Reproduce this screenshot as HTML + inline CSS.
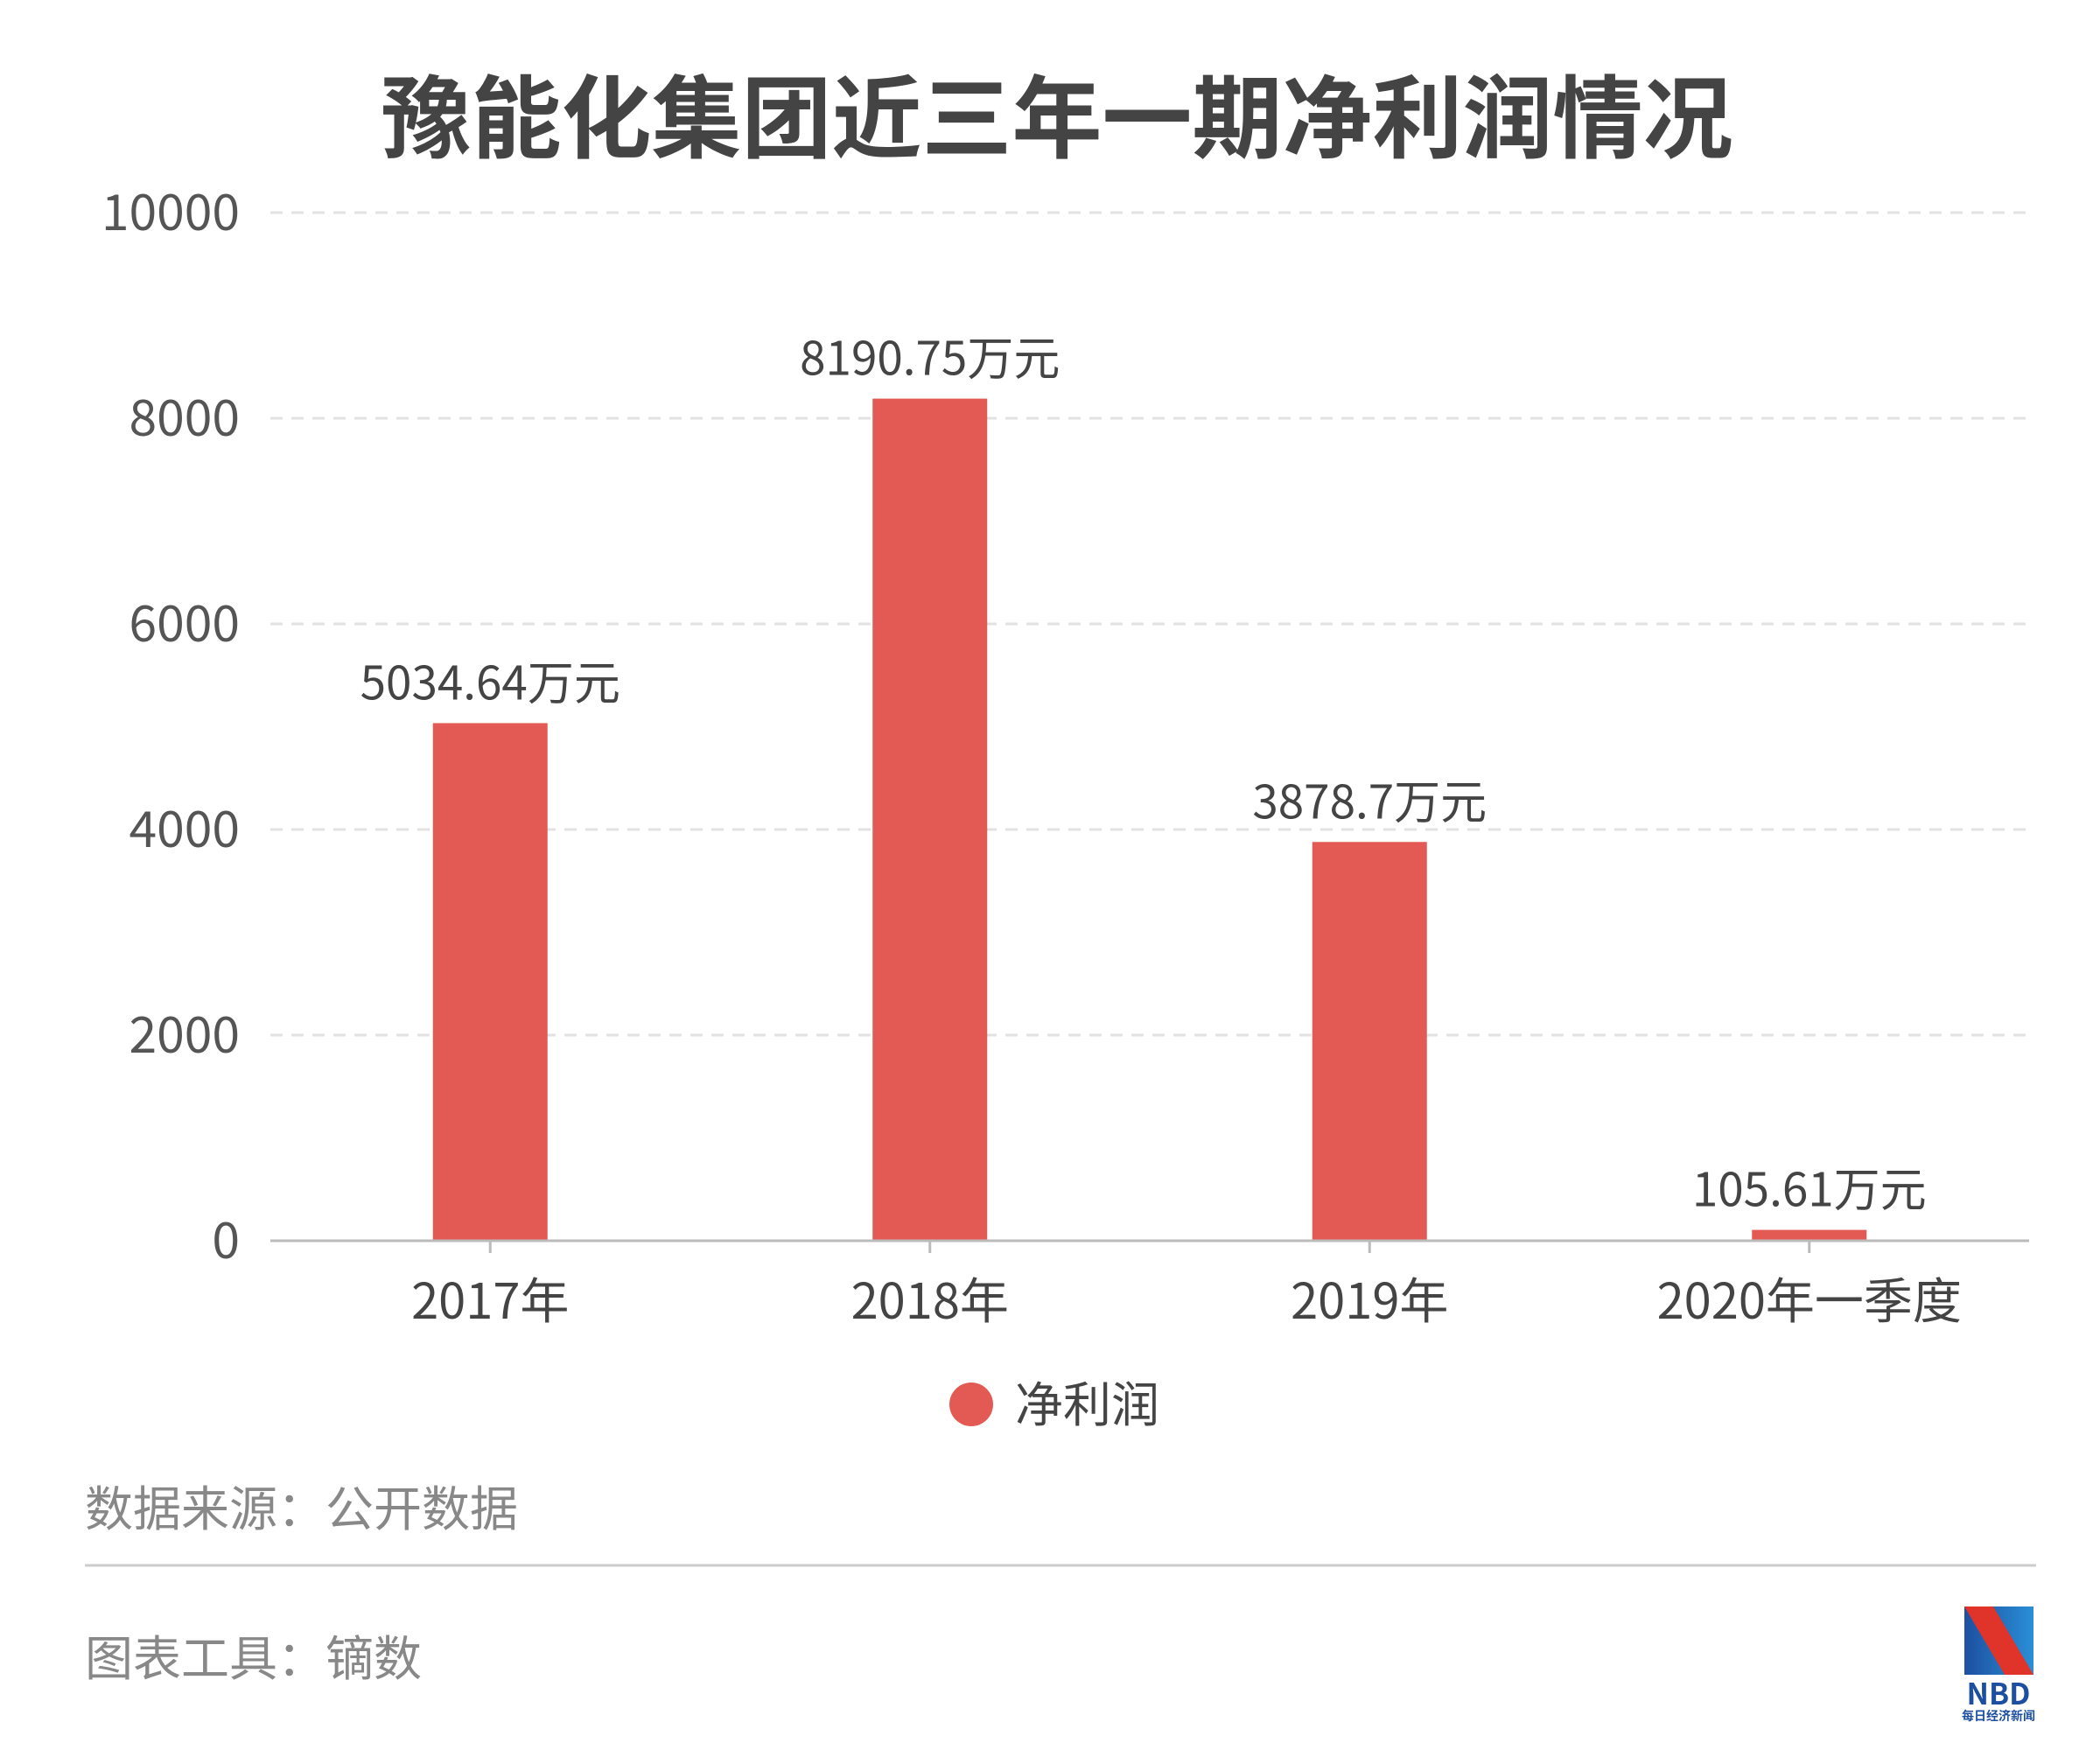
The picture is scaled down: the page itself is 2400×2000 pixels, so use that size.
<!DOCTYPE html>
<html><head><meta charset="utf-8"><style>
body{margin:0;width:2400px;height:2000px;background:#fff;overflow:hidden;font-family:"Noto Sans CJK SC","Liberation Sans",sans-serif}
svg{position:absolute;left:0;top:0;font-family:"Noto Sans CJK SC","Liberation Sans",sans-serif}
</style></head><body>
<svg width="2400" height="2000" id="c"></svg>
<script>
const categories=["2017年","2018年","2019年","2020年一季度"];
const values=[5034.64,8190.75,3878.7,105.61];
const valueLabels=["5034.64万元","8190.75万元","3878.7万元","105.61万元"];
const yTicks=[0,2000,4000,6000,8000,10000];
const NS="http://www.w3.org/2000/svg";
const svg=document.getElementById('c');
const X0=309,X1=2319,Y0=1418,Y1=243,YMAX=10000;
const bw=(X1-X0)/categories.length;
const y=v=>Y0-(v/YMAX)*(Y0-Y1);
const xc=i=>X0+bw*(i+0.5);
function mk(t,a,txt){const e=document.createElementNS(NS,t);for(const k in a)e.setAttribute(k,a[k]);if(txt!==undefined)e.textContent=txt;svg.appendChild(e);return e;}
let e;
e=mk('text',{x:1208,y:172,'text-anchor':'middle','font-size':103,'font-weight':'bold',fill:'#444'},'豫能化集团近三年一期净利润情况');


yTicks.forEach(t=>{
 if(t>0){e=mk('line',{x1:X0,x2:X1,y1:y(t),y2:y(t),stroke:'#e2e2e2','stroke-width':3,'stroke-dasharray':'14 10'});
 
 }
 e=mk('text',{x:274,y:y(t)+20,'text-anchor':'end','font-size':57,fill:'#555'},String(t));
 
 
});
values.forEach((v,i)=>{
 const w=131;
 e=mk('rect',{x:xc(i)-w/2,y:y(v),width:w,height:Y0-y(v),fill:'#e35a55'});
 
 
 e=mk('text',{x:xc(i),y:y(v)-27,'text-anchor':'middle','font-size':53,fill:'#444'},valueLabels[i]);
 
 
 e=mk('line',{x1:xc(i),x2:xc(i),y1:Y0,y2:Y0+14,stroke:'#bbb','stroke-width':3});
 
 
 e=mk('text',{x:xc(i),y:1507,'text-anchor':'middle','font-size':56,fill:'#444'},categories[i]);
 
 
});
e=mk('line',{x1:X0,x2:X1,y1:Y0,y2:Y0,stroke:'#bbb','stroke-width':3});


e=mk('circle',{cx:1110,cy:1605,r:25,fill:'#e35a55'});


e=mk('text',{x:1160,y:1625,'font-size':55,fill:'#444'},'净利润');


e=mk('text',{x:97,y:1744,'font-size':55,fill:'#888'},'数据来源：公开数据');


e=mk('line',{x1:97,x2:2327,y1:1789,y2:1789,stroke:'#ccc','stroke-width':3});


e=mk('text',{x:97,y:1915,'font-size':55,fill:'#888'},'图表工具：镝数');


</script>
<svg width="2400" height="2000" style="pointer-events:none">
<defs><linearGradient id="g" x1="0" x2="1"><stop offset="0" stop-color="#1d4fa0"/><stop offset="1" stop-color="#2a8fd6"/></linearGradient></defs>
<rect x="2245" y="1836" width="79" height="78" fill="url(#g)"/>
<polygon points="2245,1836 2278,1836 2324,1914 2291,1914" fill="#e0332a"/>
<text x="2284" y="1948" text-anchor="middle" font-size="34" font-weight="bold" fill="#1d4fa0">NBD</text>
<text x="2284" y="1966" text-anchor="middle" font-size="14" font-weight="bold" fill="#1d4fa0">每日经济新闻</text>
</svg>
</body></html>
